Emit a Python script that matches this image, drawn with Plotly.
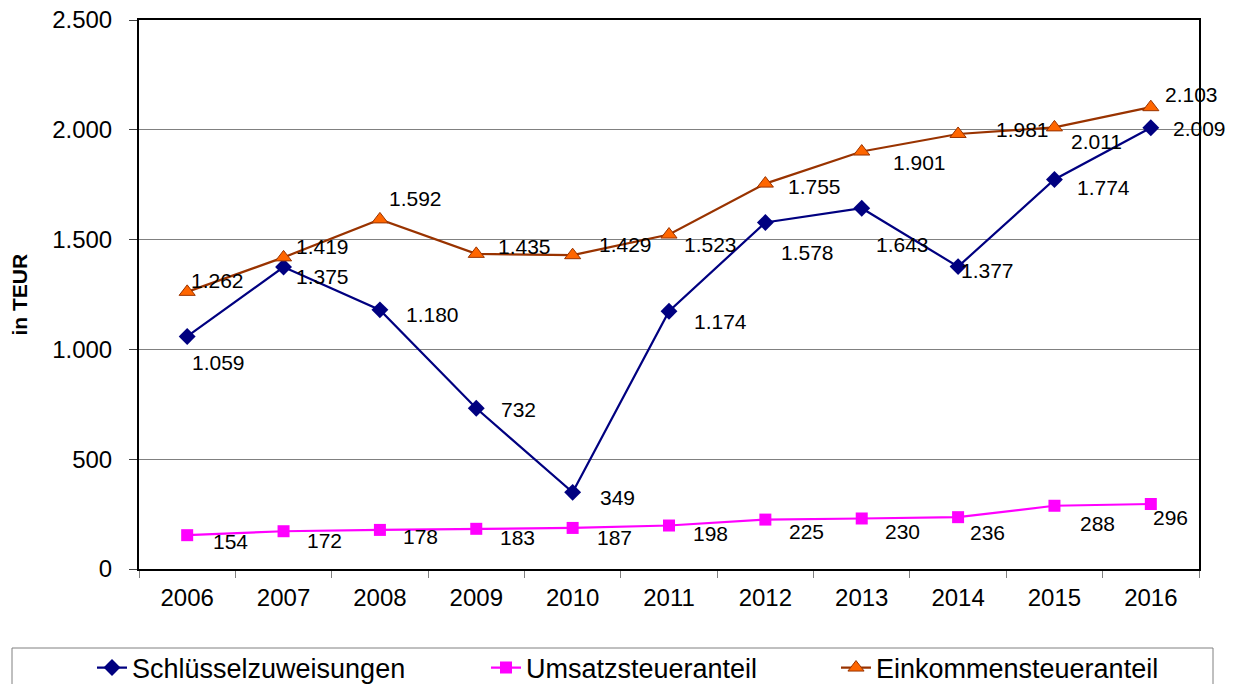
import plotly.graph_objects as go

years = ["2006", "2007", "2008", "2009", "2010", "2011", "2012", "2013", "2014", "2015", "2016"]
schluessel = [1059, 1375, 1180, 732, 349, 1174, 1578, 1643, 1377, 1774, 2009]
umsatz = [154, 172, 178, 183, 187, 198, 225, 230, 236, 288, 296]
einkommen = [1262, 1419, 1592, 1435, 1429, 1523, 1755, 1901, 1981, 2011, 2103]
series_names = ["Schlüsselzuweisungen", "Umsatzsteueranteil", "Einkommensteueranteil"]

# label offsets in pixels (dx right, dy down)
off_s = [(31, 26), (39, 9), (53, 5), (42, 1), (45, 5), (51, 10), (42, 30), (41, 36), (29, 4), (49, 8), (49, 1)]
off_u = [(43, 6), (41, 9), (41, 7), (41, 9), (42, 10), (41, 8), (41, 12), (41, 13), (29, 15), (43, 18), (20, 13)]
off_e = [(30, -11), (39, -11), (36, -21), (48, -7), (53, -11), (41, 10), (49, 3), (58, 11), (64, -4), (42, 14), (41, -13)]

FONT = "Liberation Sans, Arial, sans-serif"
W, H = 1236, 684

def fmt(v):
    return f"{v:,}".replace(",", ".")

def px(sx):
    return (sx - 139) / 1060

def py(sy):
    return (569 - sy) / 549

fig = go.Figure()
fig.add_trace(go.Scatter(x=years, y=schluessel, name=series_names[0], mode="lines+markers", legend="legend",
                         line=dict(color="#000080", width=2.2),
                         marker=dict(symbol="diamond", size=13, color="#000080")))
fig.add_trace(go.Scatter(x=years, y=umsatz, name=series_names[1], mode="lines+markers", legend="legend2",
                         line=dict(color="#FF00FF", width=2.2),
                         marker=dict(symbol="square", size=12, color="#FF00FF")))
fig.add_trace(go.Scatter(x=years, y=einkommen, name=series_names[2], mode="lines+markers", legend="legend3",
                         line=dict(color="#993300", width=2.2),
                         marker=dict(symbol="triangle-up", size=14, color="#FF6600",
                                     line=dict(color="#993300", width=1))))

annotations = []
for vals, offs in ((schluessel, off_s), (umsatz, off_u), (einkommen, off_e)):
    for i, (v, (dx, dy)) in enumerate(zip(vals, offs)):
        annotations.append(dict(x=i, y=v, xref="x", yref="y", text=fmt(v), showarrow=False,
                                xanchor="center", yanchor="middle",
                                xshift=dx, yshift=-dy, font=dict(family=FONT, size=21, color="black")))

annotations.append(dict(x=px(19), y=0.5, xref="paper", yref="paper", text="<b>in TEUR</b>",
                        xanchor="center", yanchor="middle",
                        textangle=-90, showarrow=False, font=dict(family=FONT, size=21, color="black")))

leg_common = dict(orientation="h", xanchor="left", yanchor="middle", y=py(668),
                  font=dict(family=FONT, size=27, color="black"), bgcolor="rgba(0,0,0,0)", borderwidth=0)

fig.update_layout(
    width=W, height=H,
    margin=dict(l=139, r=37, t=20, b=115, autoexpand=False),
    paper_bgcolor="white", plot_bgcolor="white",
    separators=",.",
    font=dict(family=FONT, size=24, color="black"),
    showlegend=True,
    legend=dict(x=px(137 - 45), **leg_common),
    legend2=dict(x=px(531 - 45), **leg_common),
    legend3=dict(x=px(881 - 45), **leg_common),
    annotations=annotations,
    shapes=[dict(type="rect", xref="paper", yref="paper",
                 x0=px(12), x1=px(1213), y0=py(700), y1=py(648),
                 line=dict(color="#808080", width=1), fillcolor="rgba(0,0,0,0)", layer="below")],
)
fig.update_xaxes(type="category", range=[-0.5, 10.5], tickson="boundaries", ticks="outside", ticklen=7,
                 tickcolor="#808080", showline=True, linecolor="black", linewidth=2, mirror=True,
                 showgrid=False, tickfont=dict(family=FONT, size=24), ticklabelstandoff=6)
fig.update_yaxes(range=[0, 2500], dtick=500, tickformat=",d", ticks="outside", ticklen=8,
                 tickcolor="#404040", showline=True, linecolor="black", linewidth=2, mirror=True,
                 showgrid=True, gridcolor="#808080", gridwidth=1, zeroline=False,
                 tickfont=dict(family=FONT, size=24), ticklabelstandoff=12, ticklabeloverflow="allow")

fig.write_html("out.html", config={"displayModeBar": False},
               post_script="document.body.style.margin='0';")
